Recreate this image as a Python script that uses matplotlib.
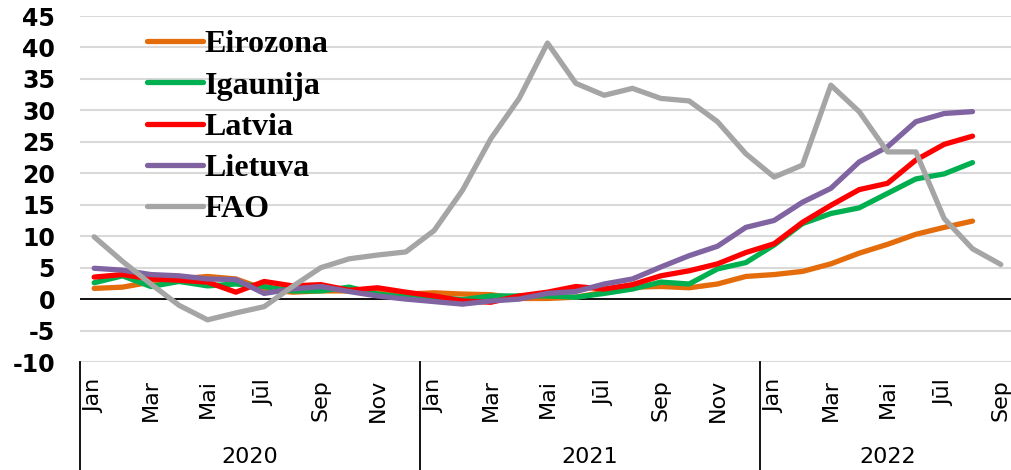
import matplotlib
matplotlib.use('Agg')
import matplotlib.pyplot as plt

plt.rcParams['axes.unicode_minus'] = False

# monthly values, Jan 2020 .. Sep 2022
months = ['Jan', 'Feb', 'Mar', 'Apr', 'Mai', 'Jūn', 'Jūl', 'Aug', 'Sep', 'Okt', 'Nov', 'Dec'] * 2 + \
         ['Jan', 'Feb', 'Mar', 'Apr', 'Mai', 'Jūn', 'Jūl', 'Aug', 'Sep']
years = ['2020', '2021', '2022']

eirozona = [1.7, 1.9, 2.7, 3.2, 3.6, 3.2, 1.6, 1.1, 1.3, 1.3, 1.1, 0.8,
            1.0, 0.8, 0.7, 0.1, 0.1, 0.3, 1.1, 1.9, 2.0, 1.8, 2.4, 3.6,
            3.9, 4.4, 5.6, 7.3, 8.7, 10.3, 11.4, 12.4]
igaunija = [2.6, 3.7, 2.0, 2.8, 2.1, 2.4, 2.0, 1.3, 1.3, 1.9, 0.8, 0.3,
            0.3, -0.1, 0.5, 0.5, 0.5, 0.3, 0.9, 1.6, 2.7, 2.4, 4.8, 5.8,
            8.6, 12.0, 13.6, 14.5, 16.8, 19.1, 19.9, 21.7]
latvia = [3.5, 3.9, 3.2, 3.0, 2.7, 1.1, 2.8, 2.1, 2.3, 1.4, 1.8, 1.1,
          0.5, -0.3, -0.5, 0.5, 1.1, 2.0, 1.6, 2.3, 3.7, 4.5, 5.6, 7.4,
          8.8, 12.2, 14.9, 17.4, 18.4, 22.1, 24.6, 25.9]
lietuva = [4.9, 4.6, 3.9, 3.7, 3.2, 3.1, 0.9, 1.6, 2.0, 1.2, 0.5, 0.0,
           -0.4, -0.8, -0.3, 0.0, 0.9, 1.2, 2.4, 3.2, 5.1, 6.9, 8.4, 11.4,
           12.5, 15.4, 17.6, 21.8, 24.2, 28.2, 29.5, 29.8]
fao = [9.9, 6.0, 2.4, -1.0, -3.3, -2.2, -1.2, 2.0, 5.0, 6.4, 7.0, 7.5,
       10.9, 17.3, 25.5, 31.9, 40.7, 34.3, 32.4, 33.5, 31.9, 31.5, 28.2, 23.1,
       19.4, 21.3, 34.0, 29.8, 23.4, 23.4, 12.8, 8.0, 5.5]

series = [('Eirozona', eirozona, '#E46C0A'), ('Igaunija', igaunija, '#00B050'),
          ('Latvia', latvia, '#FF0000'), ('Lietuva', lietuva, '#8064A2'),
          ('FAO', fao, '#A5A5A5')]

W, H = 1012, 470
fig = plt.figure(figsize=(W/100, H/100), dpi=100)
ax = fig.add_axes([80/W, (H-362)/H, 935/W, 346/H])

for name, vals, c in series:
    ax.plot(range(len(vals)), vals, color=c, lw=3.8, solid_capstyle='round', label=name, zorder=3)

ax.set_ylim(-10, 45)
ax.set_xlim(-0.5, len(months) - 0.5)
ax.set_yticks(range(-10, 46, 5))
ax.grid(axis='y', color='#D9D9D9', lw=1.5, zorder=0)
ax.set_axisbelow(True)
ax.axhline(0, color='black', lw=1.3, zorder=2)
for s in ax.spines.values():
    s.set_visible(False)
ax.tick_params(axis='y', length=0, pad=18, labelsize=17)
for t in ax.get_yticklabels():
    t.set_fontweight('bold')

ax.set_xticks(range(0, len(months), 2))
ax.set_xticklabels(months[::2], rotation=90, fontsize=16)
ax.tick_params(axis='x', length=0, pad=12)

# year groups
tr = ax.get_xaxis_transform()
starts = [0, 12, 24]
for k, yr in enumerate(years):
    x0 = starts[k] - 0.5
    x1 = (starts[k+1] if k+1 < len(starts) else len(months)) - 0.5
    ax.plot([x0, x0], [0, -0.32], color='black', lw=1.3, transform=tr, clip_on=False)
    ax.text((x0 + x1) / 2, -0.275, yr, transform=tr, ha='center', va='center', fontsize=16)

leg = ax.legend(loc='upper left', bbox_to_anchor=(147/W, 1 - 30/H), bbox_transform=fig.transFigure,
                frameon=False, borderpad=0, borderaxespad=0, handlelength=1.75, handletextpad=0.05,
                labelspacing=0.37, prop={'family': 'Liberation Serif', 'weight': 'bold', 'size': 23})

fig.savefig('out.png', dpi=100)
